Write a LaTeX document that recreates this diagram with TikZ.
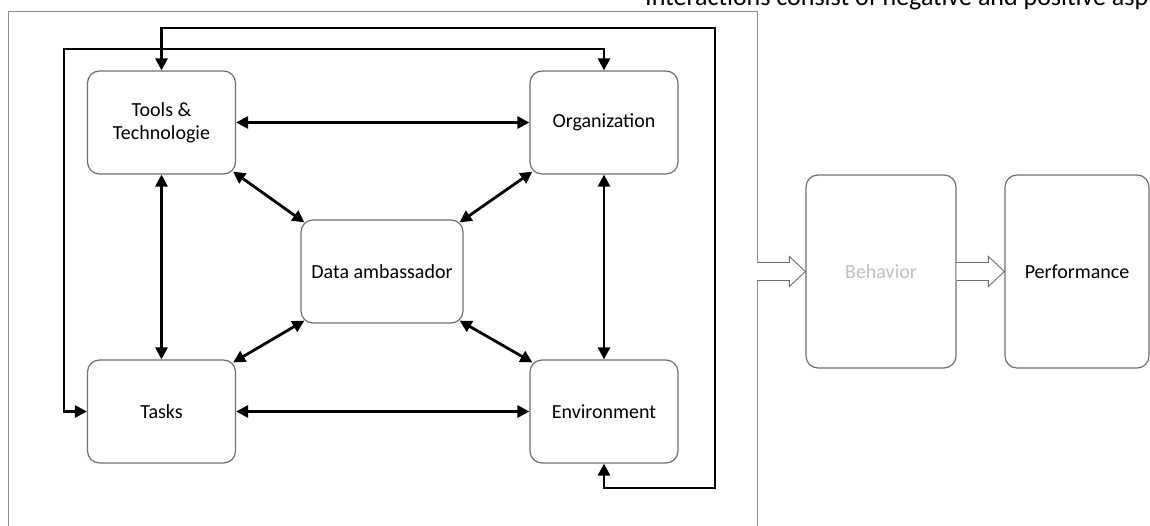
\documentclass[tikz,border=0pt]{standalone}
\usepackage{fontspec}
\setmainfont{Carlito}
\usetikzlibrary{arrows.meta,calc}
\definecolor{boxgray}{HTML}{6E6E6E}
\definecolor{framegray}{HTML}{8C8C8C}
\definecolor{lightgray}{HTML}{BFBFBF}
\begin{document}
\begin{tikzpicture}[x=1pt,y=-1pt,
  box/.style={draw=boxgray,line width=1.2pt,rounded corners=12pt,align=center,
    font=\fontsize{20}{23}\selectfont,inner sep=0pt},
  small/.style={box,minimum width=148pt,minimum height=103pt},
  conn/.style={line width=2.8pt,{Triangle[length=12pt,width=12pt]}-{Triangle[length=12pt,width=12pt]}},
  hollow/.style={draw=boxgray,line width=0.9pt,fill=white,line join=miter}]
\useasboundingbox (0,0) rectangle (1150,525);
\clip (0,0) rectangle (1150,525);
% frame
\draw[framegray,line width=1pt] (8,545) -- (8,11) -- (757,11) -- (757,545);
\coordinate (fr) at (757,271.5);
% heading (cut by page edge)
\node[anchor=base west,inner sep=0pt,font=\fontsize{26}{30}\selectfont] (head) at (645,5) {Interactions consist of negative and positive asp};
% boxes
\node[small] (tools) at (161.5,122.5) {Tools \&\\Technologie};
\node[small] (org) at (604,122.5) {Organization};
\node[box,minimum width=162pt,minimum height=103pt] (data) at (382,271.5) {Data ambassador};
\node[small] (tasks) at (161.5,411.5) {Tasks};
\node[small] (env) at (604,411.5) {Environment};
\node[box,minimum width=150pt,minimum height=193pt,text=lightgray] (beh) at (881,271.5) {Behavior};
\node[box,minimum width=144pt,minimum height=193pt] (perf) at (1077,271.5) {Performance};
% straight connectors
\draw[conn] (tools.east) -- (org.west);
\draw[conn] (tasks.east) -- (env.west);
\draw[conn] (tools.south) -- (tasks.north);
\draw[conn] (org.south) -- (env.north);
% diagonal connectors
\draw[conn] ([xshift=-3pt,yshift=3pt]tools.south east) -- ([xshift=4pt,yshift=-3pt]data.north west);
\draw[conn] ([xshift=3pt,yshift=3pt]org.south west) -- ([xshift=-4pt,yshift=-3pt]data.north east);
\draw[conn] ([xshift=4pt,yshift=3pt]data.south west) -- ([xshift=-3pt,yshift=-3pt]tasks.north east);
\draw[conn] ([xshift=-4pt,yshift=3pt]data.south east) -- ([xshift=3pt,yshift=-3pt]env.north west);
% outer loops
\coordinate (l1) at (64,49);
\coordinate (l2a) at (715,28);
\coordinate (l2b) at (715,488);
\draw[conn,line join=miter] (tasks.west) -| (l1) -| (org.north);
\draw[conn,line join=miter] (tools.north) |- (l2a) -- (l2b) -| (env.south);
% hollow arrows
\draw[hollow] ($(fr)+(0,-9)$) -- ($(beh.west)+(-16,-9)$) -- ($(beh.west)+(-16,-15)$) -- (beh.west)
  -- ($(beh.west)+(-16,15)$) -- ($(beh.west)+(-16,9)$) -- ($(fr)+(0,9)$);
\draw[hollow] ($(beh.east)+(0,-9)$) -- ($(perf.west)+(-16,-9)$) -- ($(perf.west)+(-16,-15)$) -- (perf.west)
  -- ($(perf.west)+(-16,15)$) -- ($(perf.west)+(-16,9)$) -- ($(beh.east)+(0,9)$);
\end{tikzpicture}
\end{document}
